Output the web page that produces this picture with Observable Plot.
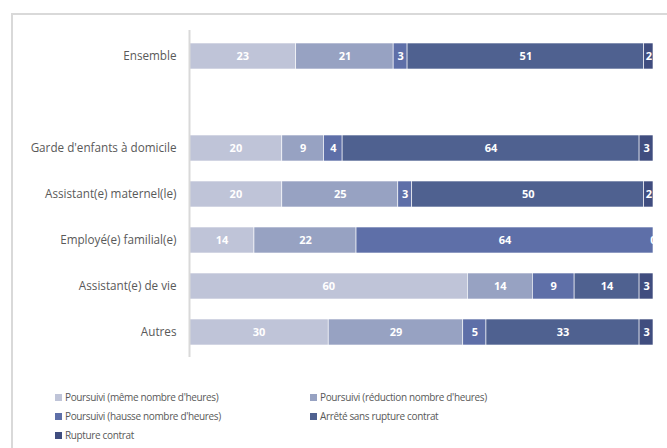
<!DOCTYPE html>
<html>
<head>
<meta charset="utf-8">
<script src="https://cdn.jsdelivr.net/npm/d3@7"></script>
<script src="https://cdn.jsdelivr.net/npm/@observablehq/plot@0.6"></script>
<style>
  html, body { margin: 0; padding: 0; background: #fff; }
  body { width: 667px; height: 448px; position: relative; overflow: hidden; font-family: "Open Sans", "Noto Sans", sans-serif; }
  #frame { position: absolute; left: 11px; top: 13px; width: 700px; height: 500px; border-left: 2px solid #d9d9d9; border-top: 2px solid #d9d9d9; box-sizing: border-box; }
  #chart { position: absolute; left: 0; top: 0; }
  #legend { position: absolute; left: 55px; top: 390px; width: 600px; font-size: 10px; letter-spacing: -0.35px; color: #595959; }
  .item { position: absolute; white-space: nowrap; display: flex; align-items: center; }
  .sw { width: 7px; height: 7px; margin-right: 3px; display: inline-block; }
</style>
</head>
<body>
<div id="frame"></div>
<div id="chart"></div>
<div id="legend"></div>
<script>
const categories = ["Ensemble", " ", "Garde d'enfants à domicile", "Assistant(e) maternel(le)", "Employé(e) familial(e)", "Assistant(e) de vie", "Autres"];
const series = ["Poursuivi (même nombre d'heures)", "Poursuivi (réduction nombre d'heures)", "Poursuivi (hausse nombre d'heures)", "Arrêté sans rupture contrat", "Rupture contrat"];
const barCategories = ["Ensemble", "Garde d'enfants à domicile", "Assistant(e) maternel(le)", "Employé(e) familial(e)", "Assistant(e) de vie", "Autres"];
const memeHeures = [23, 20, 20, 14, 60, 30];
const reductionHeures = [21, 9, 25, 22, 14, 29];
const hausseHeures = [3, 4, 3, 64, 9, 5];
const arreteSansRupture = [51, 64, 50, 0, 14, 33];
const ruptureContrat = [2, 3, 2, 0, 3, 3];
const colors = ["#bfc4d8", "#97a2c2", "#5e6fa8", "#4f6190", "#404d7f"];

const seriesValues = [memeHeures, reductionHeures, hausseHeures, arreteSansRupture, ruptureContrat];
const data = [];
barCategories.forEach((c, i) => {
  series.forEach((s, j) => {
    data.push({cat: c, series: s, value: seriesValues[j][i]});
  });
});

const chart = Plot.plot({
  width: 667,
  height: 370,
  marginLeft: 189,
  marginRight: 14,
  marginTop: 30,
  marginBottom: 13,
  style: {fontFamily: "'Open Sans', 'Noto Sans', sans-serif", background: "transparent"},
  x: {domain: [0, 100], axis: null},
  y: {domain: categories, paddingInner: 0.44, paddingOuter: 0.22, label: null},
  color: {domain: series, range: colors},
  marks: [
    Plot.axisY({tickSize: 0, tickPadding: 13, fontSize: 11.7, color: "#595959", label: null, tickFormat: d => d.trim()}),
    Plot.barX(data, Plot.stackX({x: "value", y: "cat", fill: "series", stroke: "white", strokeWidth: 0.6})),
    Plot.text(data, Plot.stackX({x: "value", y: "cat", text: d => String(d.value), fill: "white", fontWeight: "bold", fontSize: 11, filter: d => !(d.value === 0 && d.series === "Rupture contrat")})),
    Plot.ruleX([0], {stroke: "#d9d9d9", strokeWidth: 2})
  ]
});
document.getElementById("chart").appendChild(chart);

const legend = document.getElementById("legend");
const positions = [[0, 0], [255, 0], [0, 19], [255, 19], [0, 38]];
series.forEach((s, i) => {
  const el = document.createElement("div");
  el.className = "item";
  el.style.left = positions[i][0] + "px";
  el.style.top = positions[i][1] + "px";
  const sw = document.createElement("span");
  sw.className = "sw";
  sw.style.background = colors[i];
  el.appendChild(sw);
  el.appendChild(document.createTextNode(s));
  legend.appendChild(el);
});
</script>
</body>
</html>
